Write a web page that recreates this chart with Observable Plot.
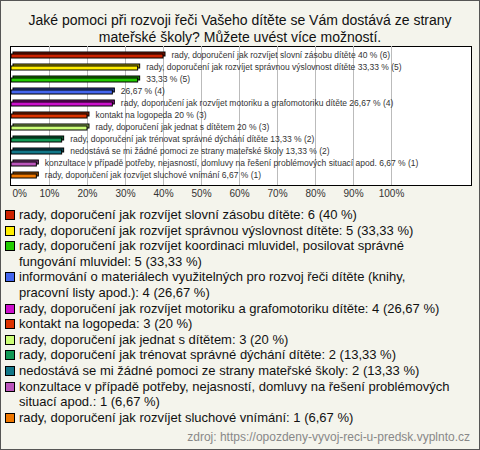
<!DOCTYPE html>
<html>
<head>
<meta charset="utf-8">
<script src="https://cdn.jsdelivr.net/npm/d3@7"></script>
<script src="https://cdn.jsdelivr.net/npm/@observablehq/plot@0.6"></script>
<style>
  html, body { margin: 0; padding: 0; background: #fff; }
  #chart {
    position: relative; width: 480px; height: 450px; overflow: hidden;
    background: #f4f4ec; font-family: "Liberation Sans", Arial, sans-serif;
    box-shadow: inset 0 0 0 1px #555;
  }
  #title {
    position: absolute; top: 12px; left: 0; width: 480px; text-align: center;
    font-size: 14px; line-height: 17px; color: #111;
  }
  #plot { position: absolute; top: 44px; left: 0; }
  #legend {
    position: absolute; top: 207px; left: 5px; width: 470px;
    font-size: 13px; line-height: 15.6px; color: #111;
  }
  .item { display: flex; align-items: flex-start; }
  .sw { flex: none; width: 8px; height: 8px; border: 1px solid #000; margin: 3px 4px 0 0; }
  .txt { width: 455px; white-space: pre-line; }
  #source {
    position: absolute; top: 430px; right: 10px; font-size: 12px; color: #888;
  }
</style>
</head>
<body>
<div id="chart">
  <div id="title">Jaké pomoci při rozvoji řeči Vašeho dítěte se Vám dostává ze strany mateřské školy? Můžete uvést více možností.</div>
  <div id="plot"></div>
  <div id="legend"></div>
  <div id="source">zdroj: https://opozdeny-vyvoj-reci-u-predsk.vyplnto.cz</div>
</div>
<script>
const categories = [
  "rady, doporučení jak rozvíjet slovní zásobu dítěte",
  "rady, doporučení jak rozvíjet správnou výslovnost dítěte",
  "rady, doporučení jak rozvíjet koordinaci mluvidel, posilovat správné fungování mluvidel",
  "informování o materiálech využitelných pro rozvoj řeči dítěte (knihy, pracovní listy apod.)",
  "rady, doporučení jak rozvíjet motoriku a grafomotoriku dítěte",
  "kontakt na logopeda",
  "rady, doporučení jak jednat s dítětem",
  "rady, doporučení jak trénovat správné dýchání dítěte",
  "nedostává se mi žádné pomoci ze strany mateřské školy",
  "konzultace v případě potřeby, nejasností, domluvy na řešení problémových situací apod.",
  "rady, doporučení jak rozvíjet sluchové vnímání"
];
// legend text as wrapped in the reference
const legendNames = [
  "rady, doporučení jak rozvíjet slovní zásobu dítěte",
  "rady, doporučení jak rozvíjet správnou výslovnost dítěte",
  "rady, doporučení jak rozvíjet koordinaci mluvidel, posilovat správné\nfungování mluvidel",
  "informování o materiálech využitelných pro rozvoj řeči dítěte (knihy,\npracovní listy apod.)",
  "rady, doporučení jak rozvíjet motoriku a grafomotoriku dítěte",
  "kontakt na logopeda",
  "rady, doporučení jak jednat s dítětem",
  "rady, doporučení jak trénovat správné dýchání dítěte",
  "nedostává se mi žádné pomoci ze strany mateřské školy",
  "konzultace v případě potřeby, nejasností, domluvy na řešení problémových\nsituací apod.",
  "rady, doporučení jak rozvíjet sluchové vnímání"
];
const counts = [6, 5, 5, 4, 4, 3, 3, 2, 2, 1, 1];
const percents = [40, 33.33, 33.33, 26.67, 26.67, 20, 20, 13.33, 13.33, 6.67, 6.67];
const percentLabels = ["40", "33,33", "33,33", "26,67", "26,67", "20", "20", "13,33", "13,33", "6,67", "6,67"];
const barPrefixes = [
  "rady, doporučení jak rozvíjet slovní zásobu dítěte",
  "rady, doporučení jak rozvíjet správnou výslovnost dítěte",
  "",
  "",
  "rady, doporučení jak rozvíjet motoriku a grafomotoriku dítěte",
  "kontakt na logopeda",
  "rady, doporučení jak jednat s dítětem",
  "rady, doporučení jak trénovat správné dýchání dítěte",
  "nedostává se mi žádné pomoci ze strany mateřské školy",
  "konzultace v případě potřeby, nejasností, domluvy na řešení problémových situací apod.",
  "rady, doporučení jak rozvíjet sluchové vnímání"
];
const colors = ["#cc2200", "#ffee00", "#22cc00", "#4466ee", "#cc11cc", "#dd3300", "#ccff77", "#119955", "#117788", "#bb55bb", "#ee7700"];
const topColors = ["#881500", "#aa9e00", "#168800", "#2d449e", "#880b88", "#932200", "#88aa50", "#0b6638", "#0b4f5a", "#7c387c", "#9e4f00"];
const tickValues = [0, 10, 20, 30, 40, 50, 60, 70, 80, 90, 100];

const data = categories.map((c, i) => ({
  c, count: counts[i], pct: percents[i], color: colors[i], top: topColors[i],
  legend: legendNames[i] + ": " + counts[i] + " (" + percentLabels[i] + " %)",
  label: (barPrefixes[i] ? barPrefixes[i] + " " : "") + percentLabels[i] + " % (" + counts[i] + ")"
}));

const plot = Plot.plot({
  width: 480, height: 165,
  marginLeft: 11, marginRight: 9, marginTop: 2, marginBottom: 24,
  style: { background: "transparent", fontFamily: "'Liberation Sans', Arial, sans-serif", overflow: "visible" },
  x: { domain: [0, 121.05], axis: null },
  y: { domain: categories, axis: null, padding: 0 },
  color: { type: "identity" },
  marks: [
    Plot.frame({ fill: "white", stroke: "black", insetLeft: -1 }),
    Plot.ruleX(tickValues.filter(d => d > 0), { stroke: "#bbb" }),
    Plot.barX(data, { y: "c", x: "pct", fill: "top", stroke: "black", strokeWidth: 1, dx: 2, dy: -2, insetTop: 4, insetBottom: 4 }),
    Plot.barX(data, { y: "c", x: "pct", fill: "color", stroke: "black", strokeWidth: 1, insetTop: 4, insetBottom: 4 }),
    Plot.text(data, { y: "c", x: "pct", text: "label", dx: 8, dy: -1, textAnchor: "start", fontSize: 8.5, fill: "#333" }),
    Plot.text(tickValues.filter(d => d === 0), { x: d => d, frameAnchor: "bottom", dy: 11, dx: 1, text: d => d + "%", textAnchor: "start", fontSize: 10, fill: "#333" }),
    Plot.text(tickValues.filter(d => d > 0), { x: d => d, frameAnchor: "bottom", dy: 11, text: d => d + "%", fontSize: 10, fill: "#333" })
  ]
});
document.getElementById("plot").appendChild(plot);

const legend = document.getElementById("legend");
data.forEach(d => {
  const item = document.createElement("div");
  item.className = "item";
  const sw = document.createElement("span");
  sw.className = "sw";
  sw.style.background = d.color;
  const t = document.createElement("span");
  t.className = "txt";
  t.textContent = d.legend;
  item.appendChild(sw);
  item.appendChild(t);
  legend.appendChild(item);
});
</script>
</body>
</html>
